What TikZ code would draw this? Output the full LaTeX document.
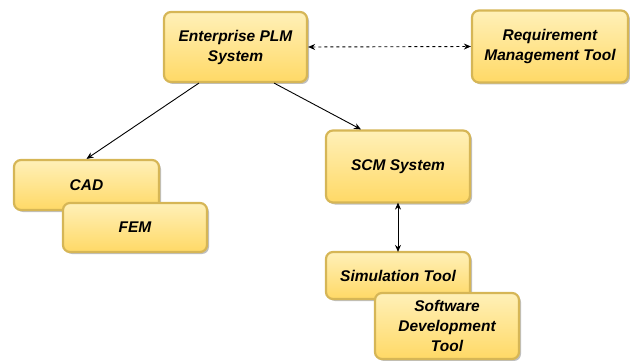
\documentclass[tikz,border=0pt]{standalone}
\usepackage{fontspec}
\setmainfont{Liberation Sans}
\usetikzlibrary{shadows,arrows.meta}
\definecolor{boxtop}{HTML}{FFF0B8}
\definecolor{boxbot}{HTML}{FFD966}
\definecolor{boxline}{HTML}{D6B656}
\tikzset{
  box/.style={draw=boxline, line width=2.2pt, rounded corners=7pt,
    top color=boxtop, bottom color=boxbot, align=center,
    font=\fontsize{15.5}{20}\selectfont\bfseries\itshape,
    drop shadow={shadow xshift=2pt, shadow yshift=-2pt, fill=black, opacity=0.25},
    inner sep=0pt},
  conn/.style={line width=0.9pt, -{Stealth[length=7pt,width=6pt]}},
}
\begin{document}
\begin{tikzpicture}[x=1pt,y=-1pt]
\useasboundingbox (0,0) rectangle (630,361);
\node[box, minimum width=143pt, minimum height=70pt] (plm) at (235.5,47) {Enterprise PLM\\System};
\node[box, minimum width=156pt, minimum height=72pt] (req) at (550,46.5) {Requirement\\Management Tool};
\node[box, minimum width=145pt, minimum height=50pt] (cad) at (86.5,185) {CAD};
\node[box, minimum width=144pt, minimum height=49pt] (fem) at (135,227.5) {FEM};
\node[box, minimum width=144pt, minimum height=72pt] (scm) at (398,166.5) {SCM System};
\node[box, minimum width=144pt, minimum height=47pt] (sim) at (398,275.5) {Simulation Tool};
\node[box, minimum width=144pt, minimum height=66pt] (sw) at (447,326) {Software\\Development\\Tool};
\draw[line width=0.9pt, dash pattern=on 3pt off 3pt, {Stealth[length=7pt,width=6pt]}-{Stealth[length=7pt,width=6pt]}] (plm.east) -- (req.west);
\draw[conn] (plm.south west) ++(36,0) coordinate (p1) -- (cad.north);
\draw[conn] (plm.south east) ++(-34,0) coordinate (p2) -- ([xshift=-37pt]scm.north);
\draw[line width=0.9pt, {Stealth[length=7pt,width=6pt]}-{Stealth[length=7pt,width=6pt]}] ([yshift=1pt]scm.south) -- ([yshift=-1pt]sim.north);
\end{tikzpicture}
\end{document}
